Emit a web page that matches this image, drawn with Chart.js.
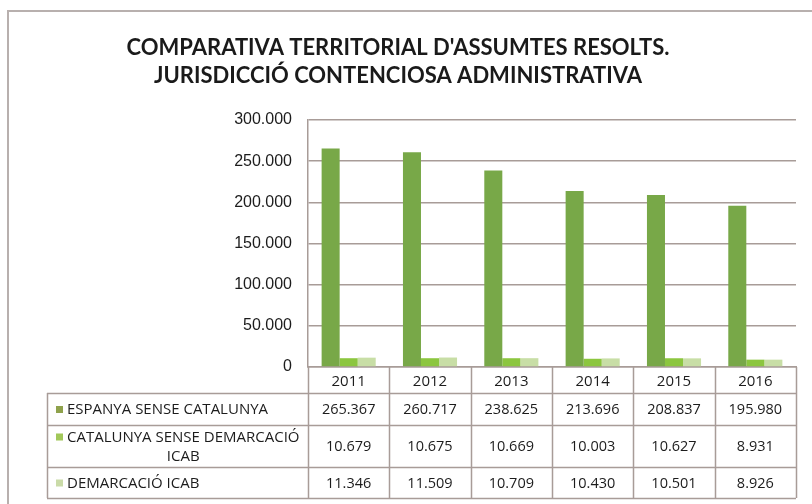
<!DOCTYPE html>
<html>
<head>
<meta charset="utf-8">
<script src="https://cdn.jsdelivr.net/npm/chart.js@4.4.1/dist/chart.umd.min.js"></script>
<style>
  html, body { margin: 0; padding: 0; background: #ffffff; }
  #wrap { width: 812px; height: 504px; position: relative; }
</style>
</head>
<body>
<div id="wrap"><canvas id="c" width="812" height="504"></canvas></div>
<script>
// ---- data ----
const categories = ['2011', '2012', '2013', '2014', '2015', '2016'];
const espanyaSenseCatalunya = [265367, 260717, 238625, 213696, 208837, 195980];
const catalunyaSenseDemarcacio = [10679, 10675, 10669, 10003, 10627, 8931];
const demarcacioIcab = [11346, 11509, 10709, 10430, 10501, 8926];
const seriesLabels = [
  ['ESPANYA SENSE CATALUNYA'],
  ['CATALUNYA SENSE DEMARCACIÓ', 'ICAB'],
  ['DEMARCACIÓ ICAB']
];
const titleLines = ["COMPARATIVA TERRITORIAL D'ASSUMTES RESOLTS.", 'JURISDICCIÓ CONTENCIOSA ADMINISTRATIVA'];
const yMin = 0, yMax = 300000, yStep = 50000;

// ---- styles ----
const LINE = '#a89c98';
const TEXT = '#1c1c1c';
const colors = ['#78a848', '#8cc63f', '#c8dea6'];
const swatch = ['#8fa24c', '#a2c85a', '#cadba8'];
const TITLE_FAMILY = "Lato, 'Open Sans', sans-serif";
const TABLE_FONT = "15px 'Open Sans', sans-serif";
const NUM_FONT = "14.5px 'Open Sans', sans-serif";

function fmt(v) { return String(v).replace(/\B(?=(\d{3})+(?!\d))/g, '.'); }

const seriesValues = [espanyaSenseCatalunya, catalunyaSenseDemarcacio, demarcacioIcab];

const frame = {
  id: 'frame',
  beforeDraw(chart) {
    const ctx = chart.ctx;
    ctx.save();
    ctx.fillStyle = '#ffffff';
    ctx.fillRect(0, 0, chart.width, chart.height);
    ctx.strokeStyle = '#b8b0ae';
    ctx.lineWidth = 2;
    ctx.beginPath();
    ctx.moveTo(8, chart.height);
    ctx.lineTo(8, 11);
    ctx.lineTo(chart.width, 11);
    ctx.stroke();
    ctx.restore();
  }
};

const dataTable = {
  id: 'dataTable',
  afterDraw(chart) {
    const ctx = chart.ctx;
    const x = chart.scales.x;
    const area = chart.chartArea;
    const n = categories.length;
    const cw = (area.right - area.left) / n;
    const top = area.bottom;
    const rowEdges = [top, top + 26, top + 58, top + 100, top + 131];
    const tableLeft = 47;
    ctx.save();
    ctx.strokeStyle = LINE;
    ctx.lineWidth = 1.5;
    ctx.beginPath();
    for (let k = 0; k <= n; k++) {
      const xx = Math.round(area.left + k * cw) + 0.5;
      ctx.moveTo(xx, top);
      ctx.lineTo(xx, rowEdges[4]);
    }
    ctx.moveTo(tableLeft + 0.5, rowEdges[1]);
    ctx.lineTo(tableLeft + 0.5, rowEdges[4]);
    for (let r = 1; r < rowEdges.length; r++) {
      const yy = Math.round(rowEdges[r]) + 0.5;
      ctx.moveTo(tableLeft, yy);
      ctx.lineTo(area.right, yy);
    }
    ctx.stroke();

    ctx.fillStyle = TEXT;
    ctx.textAlign = 'center';
    ctx.textBaseline = 'middle';
    for (let s = 0; s < seriesValues.length; s++) {
      const cy = (rowEdges[s + 1] + rowEdges[s + 2]) / 2 + 1;
      ctx.font = NUM_FONT;
      for (let i = 0; i < n; i++) {
        ctx.fillText(fmt(seriesValues[s][i]), x.getPixelForValue(i), cy);
      }
      // label
      ctx.font = TABLE_FONT;
      const lines = seriesLabels[s];
      const lh = 19;
      const blockW = Math.max(...lines.map(l => ctx.measureText(l).width));
      const x0 = 67;
      const y0 = cy - (lines.length - 1) * lh / 2;
      for (let l = 0; l < lines.length; l++) {
        ctx.fillText(lines[l], x0 + blockW / 2, y0 + l * lh);
      }
      ctx.fillStyle = swatch[s];
      ctx.fillRect(56, y0 - 4, 7, 7);
      ctx.fillStyle = TEXT;
    }
    ctx.restore();
  }
};

new Chart(document.getElementById('c'), {
  type: 'bar',
  data: {
    labels: categories,
    datasets: seriesValues.map((vals, s) => ({
      label: seriesLabels[s].join(' '),
      data: vals,
      backgroundColor: colors[s],
      borderWidth: 0,
      categoryPercentage: 0.665,
      barPercentage: 1.0
    }))
  },
  options: {
    responsive: false,
    animation: false,
    devicePixelRatio: 1,
    layout: { padding: { left: 0, right: 16, top: 0, bottom: 0 } },
    plugins: {
      legend: { display: false },
      tooltip: { enabled: false },
      title: {
        display: true,
        text: titleLines,
        color: '#1a1a1a',
        font: { family: TITLE_FAMILY, size: 22, weight: 'bold', lineHeight: 1.273 },
        padding: { top: 34, bottom: 30 }
      }
    },
    scales: {
      x: {
        grid: { display: false, drawTicks: false },
        border: { display: true, color: LINE, width: 1.5 },
        ticks: { color: TEXT, font: { family: "'Open Sans', sans-serif", size: 15 }, padding: 6, maxRotation: 0 },
        afterFit(scale) { scale.height = 137; }
      },
      y: {
        min: yMin, max: yMax,
        grid: { color: LINE, lineWidth: 1.5, drawTicks: false },
        border: { display: true, color: LINE, width: 1.5 },
        ticks: {
          stepSize: yStep, color: TEXT, padding: 16,
          font: { family: "'Liberation Sans', Arial, sans-serif", size: 16 },
          callback: v => fmt(v)
        },
        afterFit(scale) { scale.width = 308; }
      }
    }
  },
  plugins: [frame, dataTable]
});
</script>
</body>
</html>
